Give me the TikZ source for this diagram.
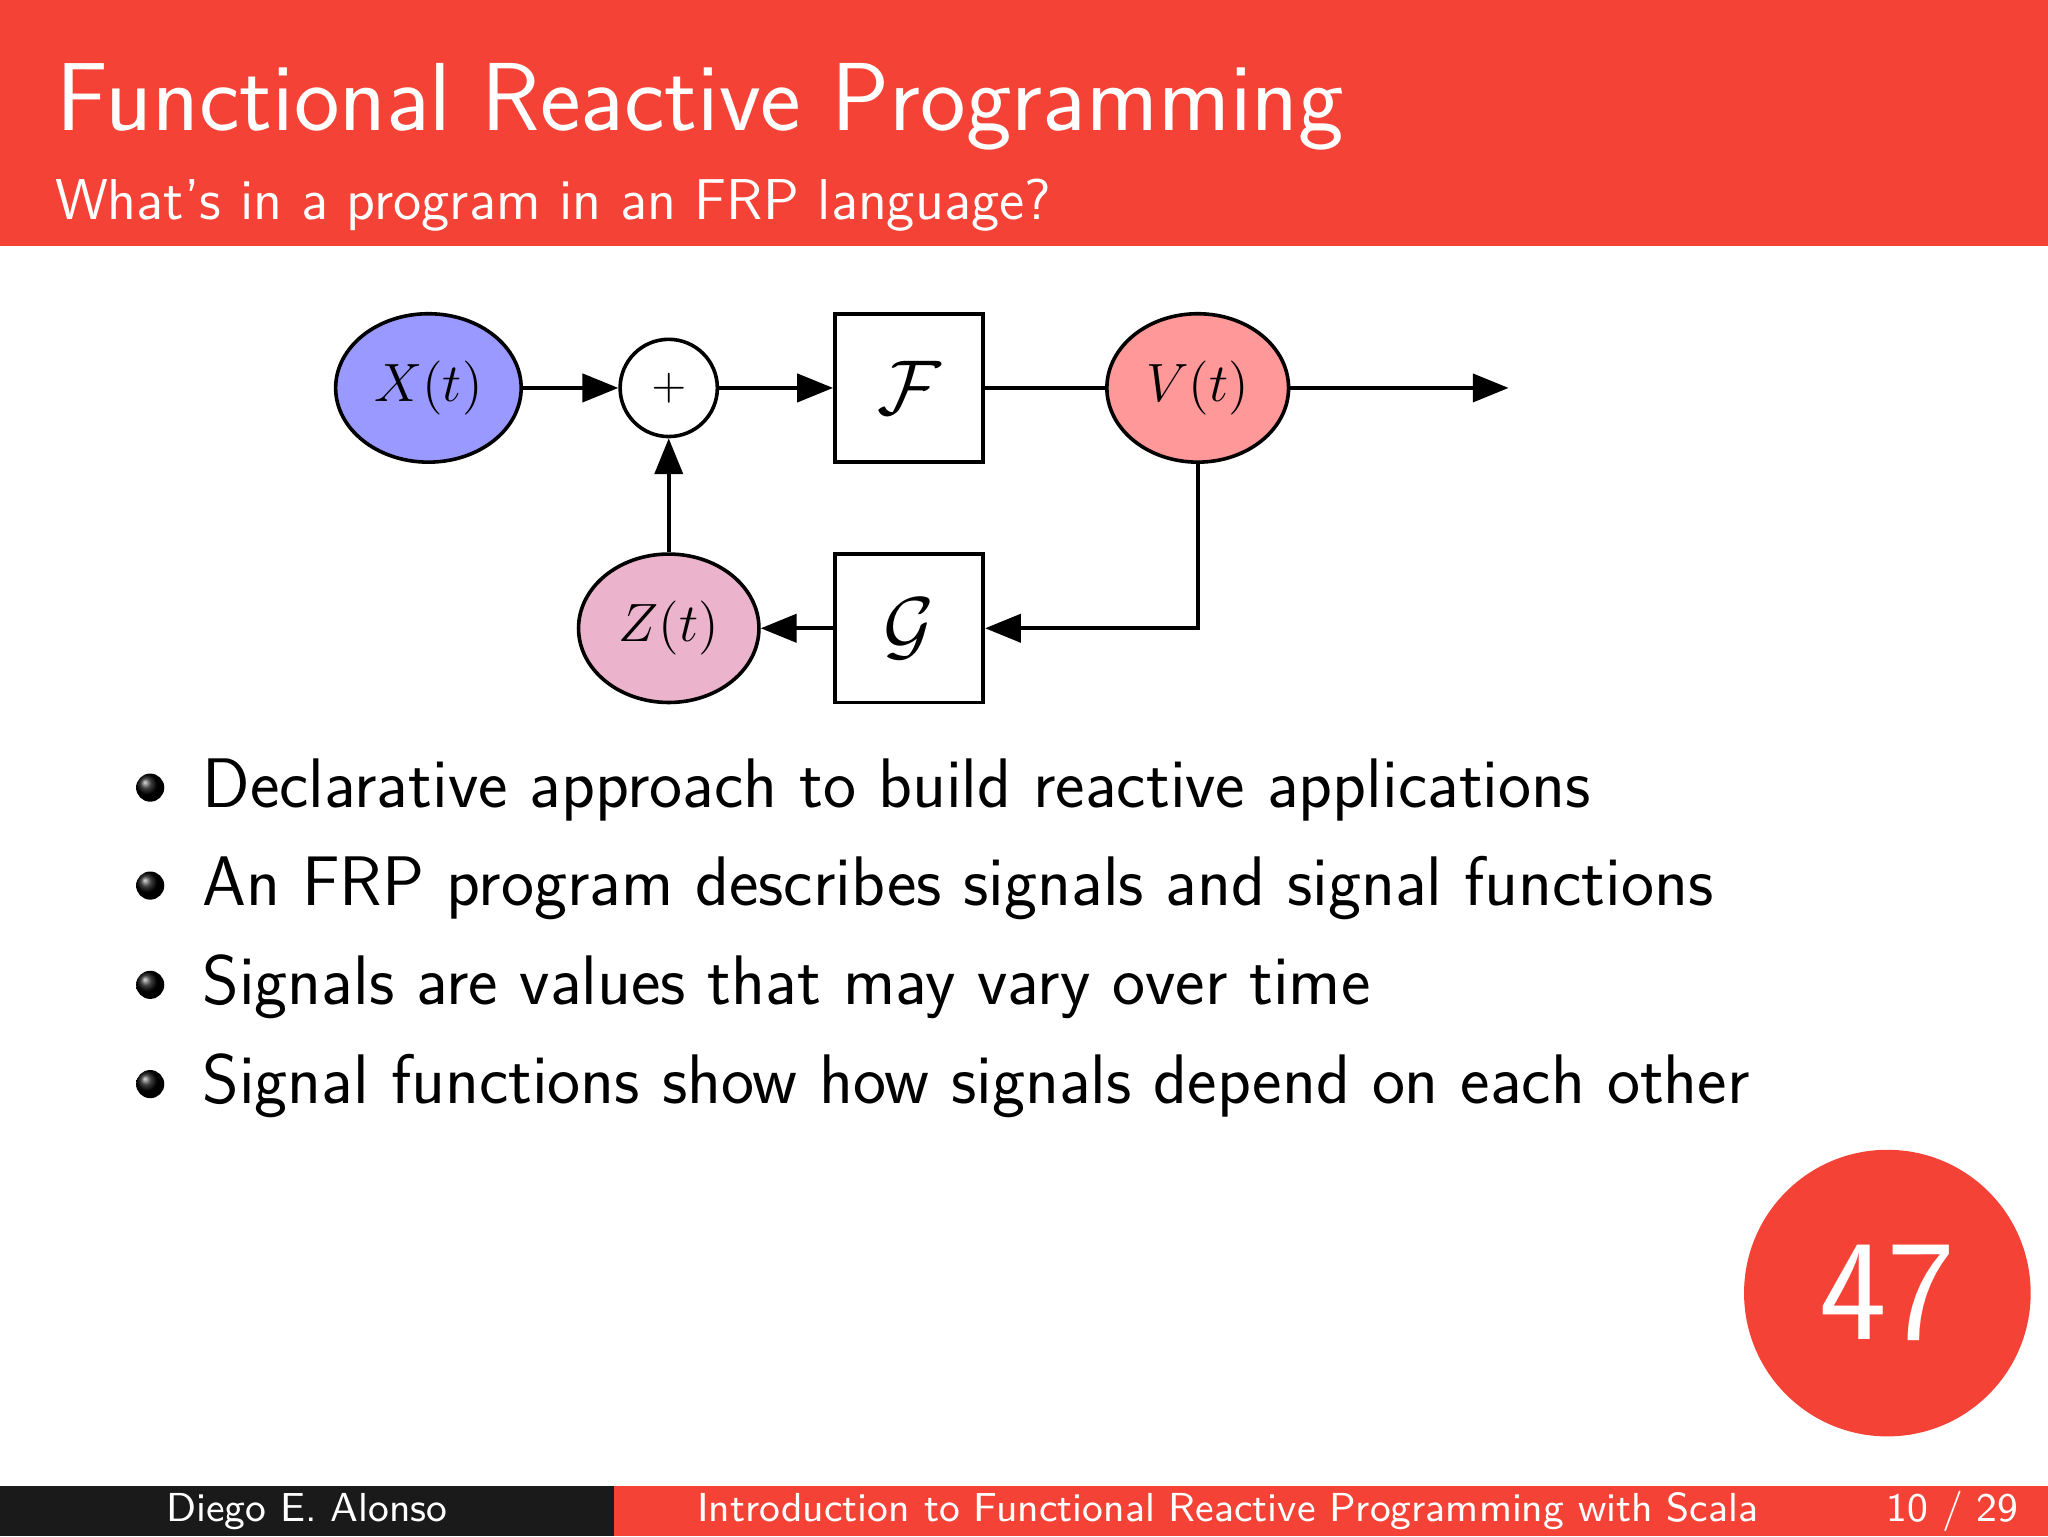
\documentclass[tikz,border=0pt]{standalone}
\usepackage{amsmath}
\usetikzlibrary{arrows.meta,shapes.geometric,positioning}
\definecolor{slidered}{HTML}{F44336}
\definecolor{footdark}{HTML}{1A1A1A}
\begin{document}
\begin{tikzpicture}[x=0.010204cm,y=-0.010204cm,
    signal/.style={ellipse,draw,thick,inner sep=0pt,minimum width=1.45cm,minimum height=1.16cm,font=\fontsize{12.5}{15}\selectfont},
    block/.style={rectangle,draw,thick,minimum size=1.16cm,font=\fontsize{16}{19}\selectfont},
    flow/.style={thick,-{Triangle[length=0.28cm,width=0.22cm]}},
    ballbullet/.style={circle,shading=ball,ball color=black,inner sep=0pt,minimum size=0.22cm},
    item/.style={anchor=base west,font=\sffamily\fontsize{15.6}{19}\selectfont}]
  \useasboundingbox (0,0) rectangle (1568,1176);
  % header
  \fill[slidered] (0,0) rectangle (1568,188);
  \node[anchor=base west,text=white,font=\sffamily\fontsize{21.5}{26}\selectfont] (title) at (31,100) {Functional Reactive Programming};
  \node[anchor=base west,text=white,font=\sffamily\fontsize{12.8}{16}\selectfont] (subtitle) at (30,168) {What's in a program in an FRP language?};
  % diagram
  \node[signal,fill={rgb,255:red,153;green,153;blue,255}] (x) at (328,297) {$X(t)$};
  \node[circle,draw,thick,minimum size=0.76cm,inner sep=0pt] (sum) at (512,297) {$+$};
  \node[block] (f) at (696,297) {$\mathcal{F}$};
  \node[signal,minimum width=1.42cm,fill={rgb,255:red,255;green,153;blue,153}] (v) at (917,297) {$V(t)$};
  \coordinate (out) at (1155,297);
  \node[block] (g) at (696,481) {$\mathcal{G}$};
  \node[signal,minimum width=1.41cm,fill={rgb,255:red,235;green,179;blue,204}] (z) at (512,481) {$Z(t)$};
  \draw[flow] (x) -- (sum);
  \draw[flow] (sum) -- (f);
  \draw[thick] (f) -- (v);
  \draw[flow] (v) -- (out);
  \draw[flow] (v.south) |- (g.east);
  \draw[flow] (g) -- (z);
  \draw[flow] (z) -- (sum);
  % bullets
  \foreach \y/\txt in {603/{Declarative approach to build reactive applications},
                      678/{An FRP program describes signals and signal functions},
                      754/{Signals are values that may vary over time},
                      830/{Signal functions show how signals depend on each other}} {
    \node[ballbullet] at (115,\y) {};
    \node[item] at (143,\y+15) {\txt};
  }
  % page badge
  \fill[slidered] (1445,990) circle (1.12cm);
  \node[text=white,font=\sffamily\fontsize{32}{38}\selectfont] (page) at (1445,990) {47};
  % footer
  \fill[footdark] (0,1138) rectangle (470,1176);
  \fill[slidered] (470,1138) rectangle (1568,1176);
  \node[text=white,font=\sffamily\fontsize{9}{11}\selectfont] (author) at (235,1157) {Diego E. Alonso};
  \node[text=white,font=\sffamily\fontsize{9}{11}\selectfont] (talk) at (940,1157) {Introduction to Functional Reactive Programming with Scala};
  \node[text=white,font=\sffamily\fontsize{9}{11}\selectfont] (count) at (1495,1157) {10 / 29};
\end{tikzpicture}
\end{document}
